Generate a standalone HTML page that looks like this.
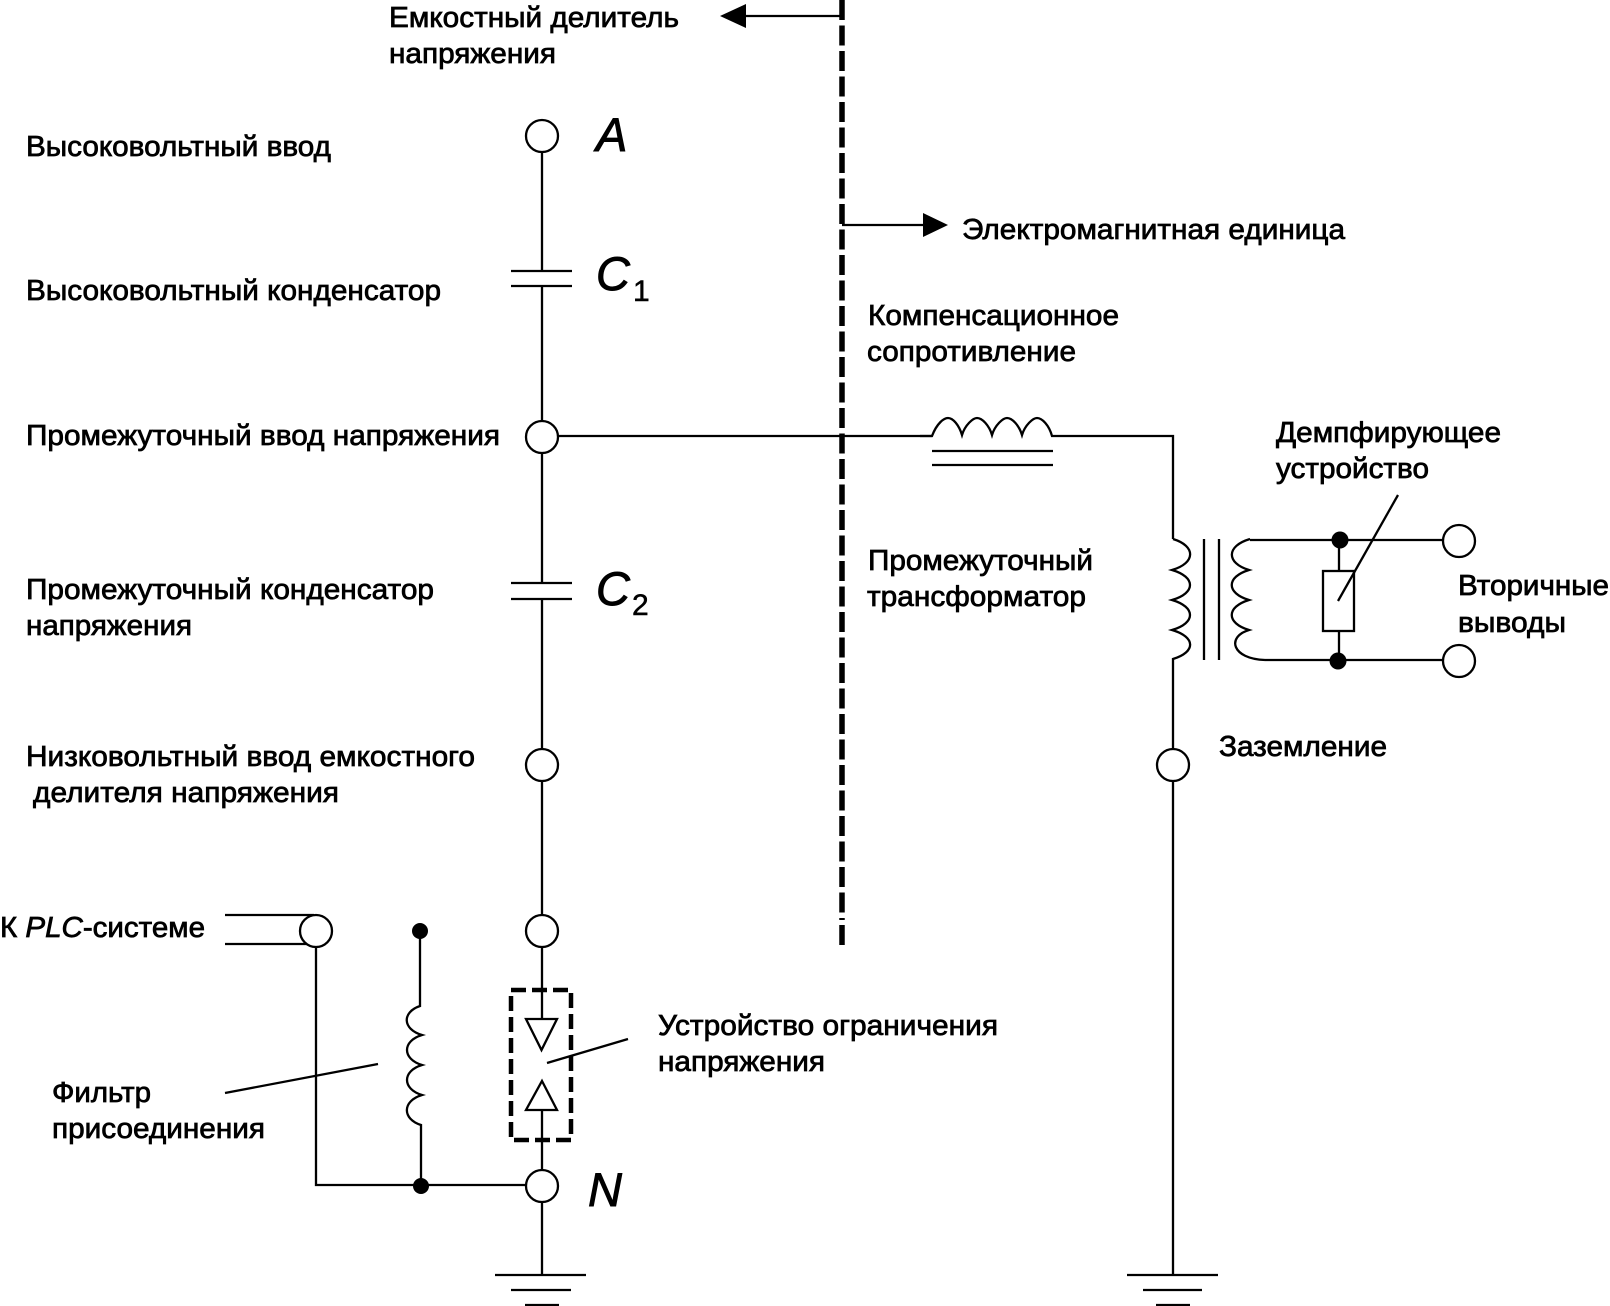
<!DOCTYPE html>
<html lang="ru">
<head>
<meta charset="utf-8">
<style>
html,body{margin:0;padding:0;background:#fff;width:1610px;height:1306px;overflow:hidden}
svg{display:block}
text{font-family:"Liberation Sans",sans-serif;font-size:29px;fill:#000;stroke:#000;stroke-width:.75px}
.big{font-size:47px;font-style:italic;stroke-width:.9px}
.sub{font-size:30px;stroke-width:.5px}
.l{fill:none;stroke:#000;stroke-width:2.3}
.c{fill:#fff;stroke:#000;stroke-width:2.3}
.d{fill:#000;stroke:none}
</style>
</head>
<body>
<svg width="1610" height="1306" viewBox="0 0 1610 1306" xmlns="http://www.w3.org/2000/svg">
<rect width="1610" height="1306" fill="#fff"/>

<!-- main dashed divider -->
<line x1="842" y1="0" x2="842" y2="920" stroke="#000" stroke-width="5.5" stroke-dasharray="20 5.5"/>
<line x1="842" y1="925" x2="842" y2="945" stroke="#000" stroke-width="5.5"/>
<path class="l" d="M842 16H746M842 225H923"/>
<polygon class="d" points="720,16 746,4 746,28"/>
<polygon class="d" points="948,225 923,213 923,237"/>

<!-- left column wires -->
<path class="l" d="M542 152V271M511 271H572M511 286H572M542 286V420M542 452V583M511 583H572M511 599H572M542 599V749M542 781V915M542 947V1019M542 1110V1171M542 1203V1275"/>
<path class="l" d="M495 1275H586M511 1290H571M525 1305H559"/>
<path class="l" d="M558 436H932"/>

<!-- compensating reactor -->
<path class="l" d="M920 436H932C937 423 944 418 948 418C953 418 959 425 962 435C965 425 973 418 977 418C982 418 989 425 992 435C995 425 1003 418 1007 418C1012 418 1019 425 1022 435C1025 425 1033 418 1037 418C1042 418 1049 425 1052 436H1173V539"/>
<path class="l" d="M932 451H1053"/>
<path class="l" stroke-width="3" d="M932 465H1053"/>

<!-- transformer primary -->
<path class="l" d="M1173 539C1196 546 1196 563 1172 570C1196 577 1196 593 1172 600C1196 607 1196 623 1172 630C1196 637 1196 652 1173 659V750M1173 782V1275"/>
<path class="l" d="M1127 1275H1218M1143 1290H1202M1156 1305H1190"/>
<path class="l" d="M1204 539V660M1219 539V660"/>

<!-- transformer secondary -->
<path class="l" d="M1250 539C1226 546 1226 563 1249 570C1226 577 1226 593 1249 600C1226 607 1226 623 1249 630C1226 637 1232 659 1265 660"/>
<path class="l" d="M1250 540H1443M1265 660H1443"/>
<path class="l" d="M1339 540V571M1339 631V661"/>
<rect x="1323" y="571" width="31" height="60" fill="#fff" stroke="#000" stroke-width="2.3"/>
<circle class="d" cx="1340" cy="540" r="8.5"/>
<circle class="d" cx="1338" cy="661" r="8.5"/>
<line class="l" x1="1398" y1="495" x2="1338" y2="601"/>
<circle class="c" cx="1459" cy="541" r="16"/>
<circle class="c" cx="1459" cy="661" r="16"/>

<!-- PLC part -->
<path class="l" d="M225 915H314M225 944H314M316 947V1185H526"/>
<circle class="d" cx="420" cy="931" r="8"/>
<circle class="d" cx="421" cy="1186" r="8"/>
<path class="l" d="M420 931V1006C402 1012 402 1029 422 1035C402 1041 402 1059 422 1065C402 1071 402 1089 422 1095C402 1101 402 1119 421 1125V1186"/>
<line class="l" x1="225" y1="1093" x2="378" y2="1064"/>

<!-- limiter -->
<rect x="511" y="990" width="60" height="150" fill="none" stroke="#000" stroke-width="4.5" stroke-dasharray="15 6"/>
<polygon class="c" points="526,1019 557,1019 541.5,1050"/>
<polygon class="c" points="542,1081 557,1110 526,1110"/>
<line class="l" x1="547" y1="1063" x2="628" y2="1039"/>

<!-- terminals -->
<circle class="c" cx="542" cy="136" r="16"/>
<circle class="c" cx="542" cy="437" r="16"/>
<circle class="c" cx="542" cy="765" r="16"/>
<circle class="c" cx="542" cy="931" r="16"/>
<circle class="c" cx="542" cy="1186" r="16"/>
<circle class="c" cx="1173" cy="765" r="16"/>
<circle class="c" cx="316" cy="931" r="16"/>

<!-- labels -->
<text x="389" y="27" textLength="290" lengthAdjust="spacingAndGlyphs">Емкостный делитель</text>
<text x="389" y="63" textLength="167" lengthAdjust="spacingAndGlyphs">напряжения</text>
<text x="26" y="156" textLength="305" lengthAdjust="spacingAndGlyphs">Высоковольтный ввод</text>
<text x="26" y="300" textLength="415" lengthAdjust="spacingAndGlyphs">Высоковольтный конденсатор</text>
<text x="26" y="445" textLength="474" lengthAdjust="spacingAndGlyphs">Промежуточный ввод напряжения</text>
<text x="26" y="599" textLength="408" lengthAdjust="spacingAndGlyphs">Промежуточный конденсатор</text>
<text x="26" y="635" textLength="166" lengthAdjust="spacingAndGlyphs">напряжения</text>
<text x="26" y="766" textLength="449" lengthAdjust="spacingAndGlyphs">Низковольтный ввод емкостного</text>
<text x="33" y="802" textLength="306" lengthAdjust="spacingAndGlyphs">делителя напряжения</text>
<text x="0" y="937" textLength="205" lengthAdjust="spacingAndGlyphs">К <tspan font-style="italic">PLC</tspan>-системе</text>
<text x="52" y="1102" textLength="99" lengthAdjust="spacingAndGlyphs">Фильтр</text>
<text x="52" y="1138" textLength="213" lengthAdjust="spacingAndGlyphs">присоединения</text>
<text x="658" y="1035" textLength="340" lengthAdjust="spacingAndGlyphs">Устройство ограничения</text>
<text x="658" y="1071" textLength="167" lengthAdjust="spacingAndGlyphs">напряжения</text>
<text x="962" y="239" textLength="383" lengthAdjust="spacingAndGlyphs">Электромагнитная единица</text>
<text x="868" y="325" textLength="251" lengthAdjust="spacingAndGlyphs">Компенсационное</text>
<text x="867" y="361" textLength="209" lengthAdjust="spacingAndGlyphs">сопротивление</text>
<text x="868" y="570" textLength="225" lengthAdjust="spacingAndGlyphs">Промежуточный</text>
<text x="867" y="606" textLength="219" lengthAdjust="spacingAndGlyphs">трансформатор</text>
<text x="1276" y="442" textLength="225" lengthAdjust="spacingAndGlyphs">Демпфирующее</text>
<text x="1276" y="478" textLength="153" lengthAdjust="spacingAndGlyphs">устройство</text>
<text x="1458" y="595" textLength="151" lengthAdjust="spacingAndGlyphs">Вторичные</text>
<text x="1458" y="632" textLength="108" lengthAdjust="spacingAndGlyphs">выводы</text>
<text x="1219" y="756" textLength="168" lengthAdjust="spacingAndGlyphs">Заземление</text>

<text class="big" x="596" y="151">A</text>
<text class="big" x="596" y="290">C</text>
<text class="sub" x="633" y="301">1</text>
<text class="big" x="596" y="605">C</text>
<text class="sub" x="632" y="615">2</text>
<text class="big" x="588" y="1206">N</text>
</svg>
</body>
</html>
